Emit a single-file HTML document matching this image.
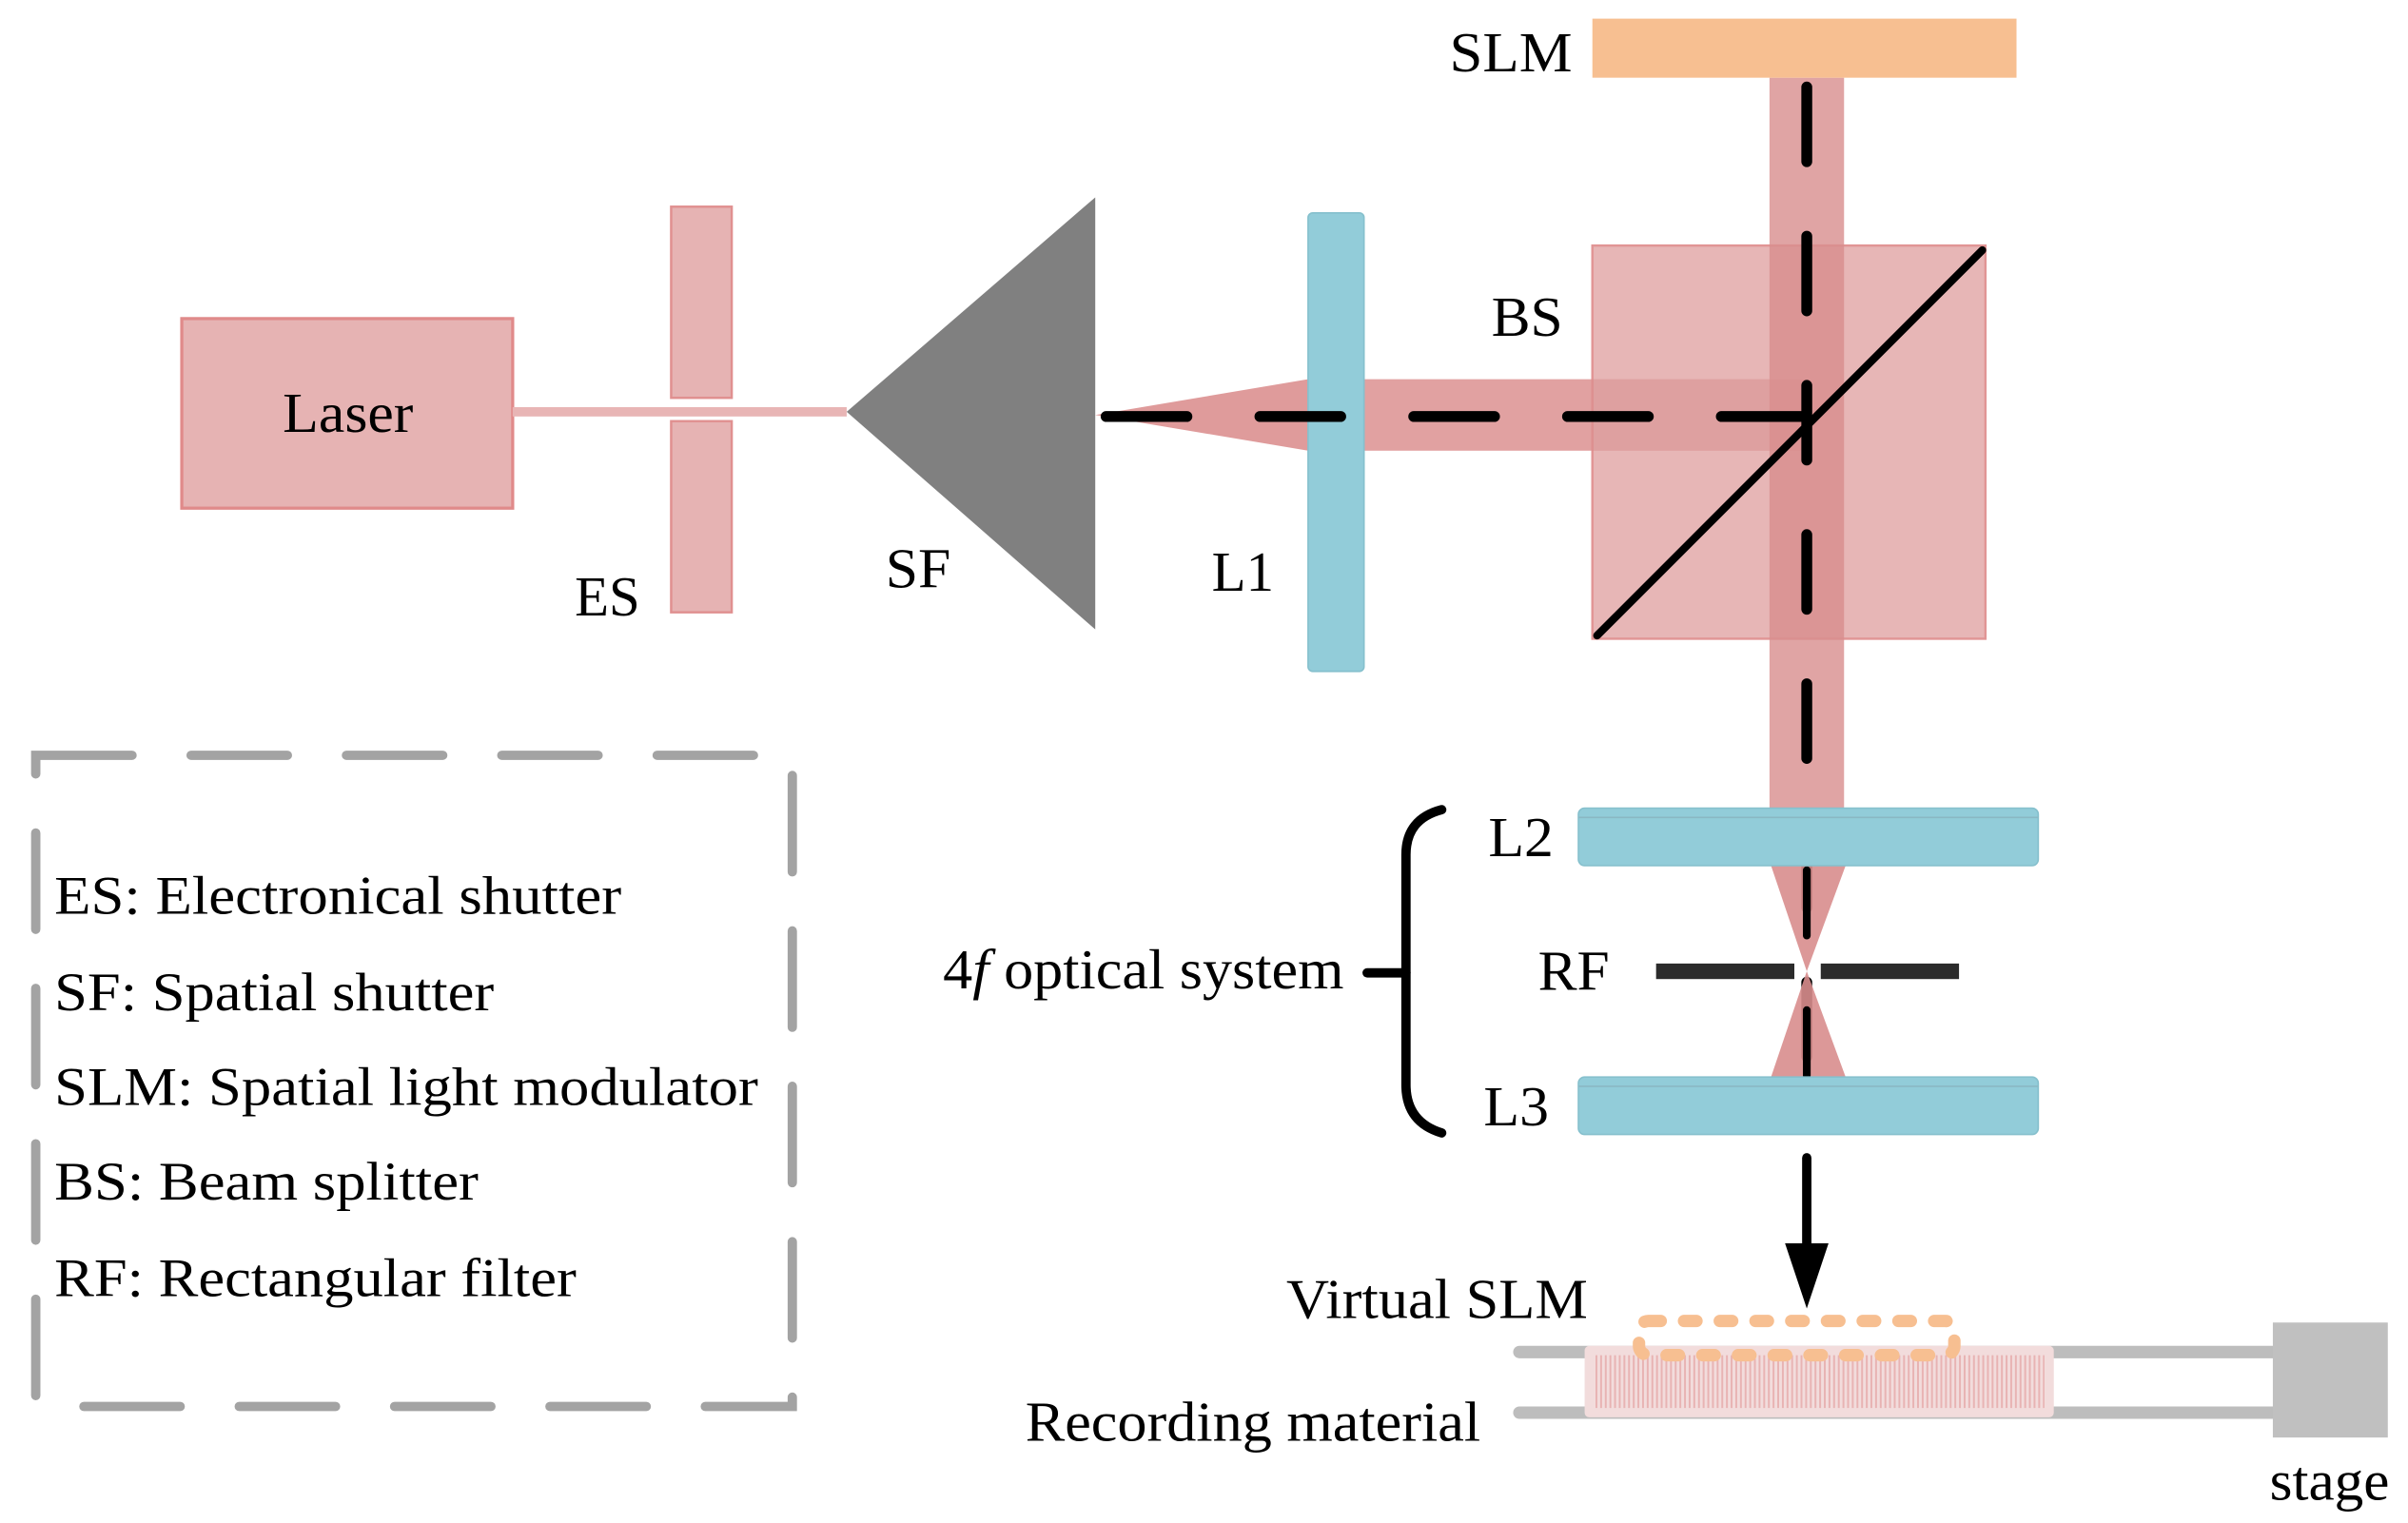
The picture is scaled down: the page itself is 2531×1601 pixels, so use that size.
<!DOCTYPE html>
<html><head><meta charset="utf-8"><style>html,body{margin:0;padding:0;background:#fff}svg{display:block}text{font-family:"Liberation Serif","Times New Roman",serif}</style></head>
<body>
<svg width="2531" height="1601" viewBox="0 0 1550 980" preserveAspectRatio="none" xmlns="http://www.w3.org/2000/svg" fill="#000">
<rect x="0" y="0" width="1550" height="980" fill="#fff"/>
<!-- Laser -->
<rect x="117" y="205" width="213" height="122" fill="#e6b3b3" stroke="#e08a8a" stroke-width="2"/>
<text x="224" y="278" font-size="36" text-anchor="middle" textLength="84" lengthAdjust="spacingAndGlyphs">Laser</text>
<rect x="330" y="262" width="215" height="6" fill="#e8b5b5"/>
<!-- ES -->
<rect x="432" y="133" width="39" height="123" fill="#e6b3b3" stroke="#e09090" stroke-width="1.5"/>
<rect x="432" y="271" width="39" height="123" fill="#e6b3b3" stroke="#e09090" stroke-width="1.5"/>
<text x="370" y="396" font-size="36" textLength="42" lengthAdjust="spacingAndGlyphs">ES</text>
<!-- SF -->
<polygon points="545,265 705,127 705,405" fill="#808080"/>
<text x="570" y="378" font-size="36" textLength="42" lengthAdjust="spacingAndGlyphs">SF</text>
<!-- beam horizontal -->
<polygon points="705,267 842,244 842,290" fill="#dc9090" opacity="0.9"/>
<rect x="842" y="244" width="320" height="46" fill="#dc9090" opacity="0.85"/>
<!-- BS cube -->
<rect x="1025" y="158" width="253" height="253" fill="#e6b3b3" stroke="#e09090" stroke-width="1.5" opacity="0.95"/>
<rect x="1025" y="244" width="137" height="46" fill="#d88d8d" opacity="0.5"/>
<!-- vertical beam -->
<rect x="1139" y="50" width="48" height="470" fill="#d88d8d" opacity="0.8"/>
<!-- L1 -->
<rect x="842" y="137" width="36" height="295" rx="3" fill="#92ccd9" stroke="#86c0cd" stroke-width="1"/>
<text x="780" y="380" font-size="36" textLength="40" lengthAdjust="spacingAndGlyphs">L1</text>
<!-- SLM -->
<rect x="1025" y="12" width="273" height="38" fill="#f7bf91"/>
<text x="933" y="46" font-size="36" textLength="79" lengthAdjust="spacingAndGlyphs">SLM</text>
<text x="960" y="216" font-size="36" textLength="46" lengthAdjust="spacingAndGlyphs">BS</text>
<!-- diagonal -->
<line x1="1028" y1="409" x2="1276" y2="161" stroke="#000" stroke-width="5" stroke-linecap="round"/>
<!-- dashed paths -->
<line x1="712" y1="268" x2="1163" y2="268" stroke="#000" stroke-width="7" stroke-linecap="round" stroke-dasharray="52 47"/>
<line x1="1163" y1="56" x2="1163" y2="690" stroke="#000" stroke-width="7" stroke-linecap="round" stroke-dasharray="48 48"/>
<!-- hourglass -->
<polygon points="1140,557 1188,557 1163,625" fill="#d88d8d" opacity="0.9"/>
<polygon points="1140,693 1188,693 1163,625" fill="#d88d8d" opacity="0.9"/>
<line x1="1163" y1="560" x2="1163" y2="602" stroke="#000" stroke-width="5" stroke-linecap="round"/>
<line x1="1163" y1="650" x2="1163" y2="692" stroke="#000" stroke-width="5" stroke-linecap="round"/>
<!-- L2 L3 -->
<rect x="1016" y="520" width="296" height="37" rx="4" fill="#92ccd9" stroke="#86c0cd" stroke-width="1"/>
<rect x="1016" y="693" width="296" height="37" rx="4" fill="#92ccd9" stroke="#86c0cd" stroke-width="1"/>
<line x1="1016" y1="526" x2="1312" y2="526" stroke="#8ab8c4" stroke-width="1"/>
<line x1="1016" y1="699" x2="1312" y2="699" stroke="#8ab8c4" stroke-width="1"/>
<!-- RF -->
<rect x="1066" y="620" width="89" height="10" fill="#2b2b2b"/>
<rect x="1172" y="620" width="89" height="10" fill="#2b2b2b"/>
<text x="958" y="551" font-size="36" textLength="42" lengthAdjust="spacingAndGlyphs">L2</text>
<text x="990" y="637" font-size="36" textLength="46" lengthAdjust="spacingAndGlyphs">RF</text>
<text x="955" y="724" font-size="36" textLength="42" lengthAdjust="spacingAndGlyphs">L3</text>
<!-- brace -->
<path d="M928,521 Q905,527 905,550 L905,698 Q905,722 928,729" fill="none" stroke="#000" stroke-width="6" stroke-linecap="round"/>
<line x1="880" y1="626" x2="905" y2="626" stroke="#000" stroke-width="6" stroke-linecap="round"/>
<text x="607" y="636" font-size="36" textLength="258" lengthAdjust="spacingAndGlyphs">4<tspan font-style="italic">f</tspan> optical system</text>
<!-- arrow -->
<line x1="1163" y1="745" x2="1163" y2="805" stroke="#000" stroke-width="6" stroke-linecap="round"/>
<polygon points="1149,800 1177,800 1163,842" fill="#000"/>
<text x="828" y="848" font-size="36" textLength="194" lengthAdjust="spacingAndGlyphs">Virtual SLM</text>
<!-- rails -->
<line x1="978" y1="870" x2="1465" y2="870" stroke="#bdbdbd" stroke-width="8" stroke-linecap="round"/>
<line x1="978" y1="909" x2="1465" y2="909" stroke="#bdbdbd" stroke-width="8" stroke-linecap="round"/>
<rect x="1463" y="851" width="74" height="74" fill="#c0c0c0"/>
<text x="1461" y="965" font-size="36" textLength="77" lengthAdjust="spacingAndGlyphs">stage</text>
<!-- recording material -->
<rect x="1020" y="866" width="302" height="46" rx="3" fill="#f2dcdc"/>
<line x1="1027" y1="889" x2="1316" y2="889" stroke="#e8b3b3" stroke-width="34" stroke-dasharray="1.2 1.8"/>
<rect x="1055" y="850" width="203" height="22" rx="6" fill="none" stroke="#f7bf91" stroke-width="8" stroke-linecap="round" stroke-dasharray="8 15"/>
<text x="660" y="927" font-size="36" textLength="293" lengthAdjust="spacingAndGlyphs">Recording material</text>
<!-- legend -->
<rect x="23" y="486" width="487" height="419" fill="none" stroke="#a3a3a3" stroke-width="6" stroke-linecap="round" stroke-dasharray="62 38"/>
<g font-size="35">
<text x="35" y="588" textLength="365" lengthAdjust="spacingAndGlyphs">ES: Electronical shutter</text>
<text x="35" y="650" textLength="283" lengthAdjust="spacingAndGlyphs">SF: Spatial shutter</text>
<text x="35" y="711" textLength="453" lengthAdjust="spacingAndGlyphs">SLM: Spatial light modulator</text>
<text x="35" y="772" textLength="273" lengthAdjust="spacingAndGlyphs">BS: Beam splitter</text>
<text x="35" y="834" textLength="336" lengthAdjust="spacingAndGlyphs">RF: Rectangular filter</text>
</g>
</svg>
</body></html>
